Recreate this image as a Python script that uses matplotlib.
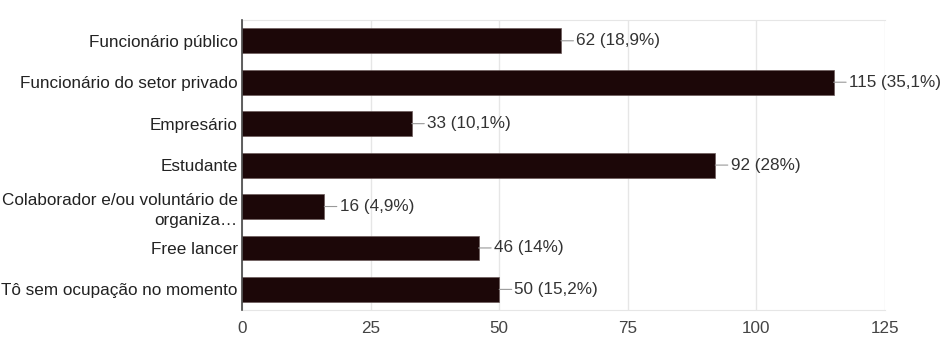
import matplotlib.pyplot as plt
import numpy as np

categories = [
    "Funcionário público",
    "Funcionário do setor privado",
    "Empresário",
    "Estudante",
    "Colaborador e/ou voluntário de\norganiza…",
    "Free lancer",
    "Tô sem ocupação no momento",
]
counts = [62, 115, 33, 92, 16, 46, 50]
labels = ["62 (18,9%)", "115 (35,1%)", "33 (10,1%)", "92 (28%)",
          "16 (4,9%)", "46 (14%)", "50 (15,2%)"]
xticks = [0, 25, 50, 75, 100, 125]

plt.rcParams['font.family'] = ['Liberation Sans', 'DejaVu Sans']

fig = plt.figure(figsize=(9.49, 3.52), dpi=100)
ax = fig.add_axes([0.255, 0.119, 0.6776, 0.824])

y = np.arange(len(categories))
ax.barh(y, counts, height=0.6, color='#1c0708', edgecolor='#6b5a5a', linewidth=0.5, zorder=3)

for yi, v, lab in zip(y, counts, labels):
    ax.annotate(lab, xy=(v, yi), xytext=(11, 0), textcoords='offset points',
                ha='left', va='center', fontsize=12.3, color='#333333',
                arrowprops=dict(arrowstyle='-', color='#999999', lw=0.8,
                                shrinkA=0, shrinkB=0))

ax.set_ylim(len(categories) - 0.5, -0.5)
ax.set_xlim(0, 125)
ax.set_yticks(y)
ax.set_yticklabels(categories, fontsize=12.3, color='#222222', ha='right',
                   linespacing=1.45)
ax.set_xticks(xticks)
ax.set_xticklabels([str(t) for t in xticks], fontsize=12.3, color='#444444')
ax.tick_params(axis='both', length=0)
ax.tick_params(axis='x', pad=8)
ax.tick_params(axis='y', pad=3)

ax.grid(axis='x', color='#e6e6e6', linewidth=1, zorder=0)
ax.spines['left'].set_color('#444444')
ax.spines['left'].set_linewidth(1.2)
ax.spines['left'].set_zorder(4)
for s in ['top', 'bottom']:
    ax.spines[s].set_color('#e6e6e6')
ax.spines['right'].set_visible(False)

plt.savefig("out.png", dpi=100, facecolor='white')
